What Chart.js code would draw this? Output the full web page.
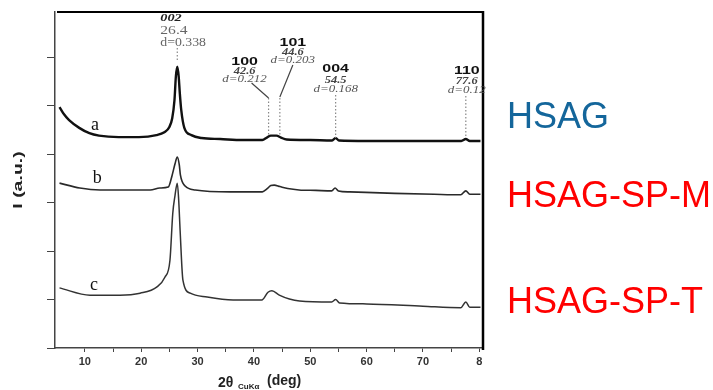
<!DOCTYPE html>
<html>
<head>
<meta charset="utf-8">
<script src="https://cdn.jsdelivr.net/npm/chart.js@4.4.1/dist/chart.umd.min.js"></script>
<style>
  html, body { margin: 0; padding: 0; background: #fff; }
  #xrd { display: block; }
</style>
</head>
<body>
<canvas id="xrd" width="713" height="390"></canvas>
<script>
// XRD patterns, intensity in arbitrary units (curves already offset)
var thetaA = [5.5, 6.3, 7.2, 9.0, 10.8, 12.5, 16.0, 19.6, 22.7, 24.1, 25.0, 25.5, 25.9, 26.15, 26.4, 26.65, 26.85, 27.1, 27.65, 28.9, 30.7, 34, 38, 41.5, 42.3, 43.0, 44.0, 44.8, 45.8, 50, 53.8, 54.5, 55.1, 60, 70, 76.8, 77.6, 78.3, 80.2];
var intA   = [4.97, 4.82, 4.70, 4.54, 4.43, 4.38, 4.35, 4.35, 4.39, 4.45, 4.56, 4.74, 5.11, 5.60, 5.80, 5.60, 5.25, 4.91, 4.54, 4.39, 4.33, 4.31, 4.29, 4.29, 4.34, 4.38, 4.38, 4.34, 4.30, 4.29, 4.28, 4.33, 4.28, 4.27, 4.27, 4.27, 4.31, 4.27, 4.27];

var thetaB = [5.5, 9.1, 12.7, 21.6, 23.3, 24.8, 25.5, 26.0, 26.4, 26.75, 26.95, 27.8, 29.6, 35.8, 41.5, 42.3, 43.0, 43.6, 44.6, 46.0, 48.0, 51.0, 53.8, 54.4, 55.0, 57.0, 65.0, 72.0, 76.7, 77.6, 78.3, 80.2];
var intB   = [3.40, 3.30, 3.26, 3.26, 3.30, 3.32, 3.57, 3.80, 3.94, 3.78, 3.57, 3.34, 3.26, 3.22, 3.22, 3.28, 3.35, 3.36, 3.33, 3.29, 3.26, 3.25, 3.24, 3.30, 3.24, 3.22, 3.19, 3.17, 3.16, 3.24, 3.17, 3.17];

var thetaC = [5.5, 10.9, 16.2, 19.8, 22.8, 24.2, 25.1, 25.6, 26.0, 26.4, 26.65, 26.9, 27.4, 28.7, 31.7, 36.3, 41.4, 42.5, 43.2, 44.5, 46.3, 48.1, 53.8, 54.5, 55.2, 60, 70, 76.7, 77.6, 78.3, 80.2];
var intC   = [1.24, 1.09, 1.09, 1.13, 1.26, 1.46, 1.81, 2.78, 3.15, 3.40, 3.05, 2.43, 1.40, 1.13, 1.05, 0.99, 0.99, 1.15, 1.18, 1.09, 1.01, 0.97, 0.95, 1.00, 0.93, 0.91, 0.86, 0.83, 0.95, 0.84, 0.84];

// indexed reflections of graphite
var peakTheta = [26.4, 42.6, 44.6, 54.5, 77.6];
var peakHkl   = ['002', '100', '101', '004', '110'];
var peakD     = ['0.338', '0.212', '0.203', '0.168', '0.12'];

var xMajor       = [10, 20, 30, 40, 50, 60, 70, 80];
var xMajorLabels = ['10', '20', '30', '40', '50', '60', '70', '8'];
var yTicks       = [0, 1, 2, 3, 4, 5, 6];

var curveLetters = ['a', 'b', 'c'];
var sampleNames  = ['HSAG', 'HSAG-SP-M', 'HSAG-SP-T'];

function pts(xs, ys) {
  return xs.map(function (x, i) { return { x: x, y: ys[i] }; });
}

// wide, squat lettering used in the peak annotations
function wideText(ctx, text, x, y, sx) {
  ctx.save();
  ctx.translate(x, y);
  ctx.scale(sx, 1);
  ctx.fillText(text, 0, 0);
  ctx.restore();
}

var overlay = {
  id: 'overlay',
  afterDraw: function (chart) {
    var ctx = chart.ctx;
    var xs = chart.scales.x, ys = chart.scales.y;
    var area = chart.chartArea;
    ctx.save();

    // heavy frame on top and right
    ctx.strokeStyle = '#000';
    ctx.lineWidth = 2;
    ctx.beginPath();
    ctx.moveTo(area.left + 2, area.top);
    ctx.lineTo(area.right, area.top);
    ctx.stroke();
    ctx.lineWidth = 2.5;
    ctx.beginPath();
    ctx.moveTo(area.right, area.top - 1);
    ctx.lineTo(area.right, area.bottom + 2);
    ctx.stroke();

    // dotted markers at the reflections
    var px = peakTheta.map(function (t) { return xs.getPixelForValue(t); });
    ctx.strokeStyle = '#888';
    ctx.lineWidth = 1.2;
    ctx.setLineDash([1.5, 2]);
    var spans = [[48, 62], [98, 135], [98, 135], [95, 138], [96, 138]];
    spans.forEach(function (s, i) {
      ctx.beginPath();
      ctx.moveTo(px[i], s[0]);
      ctx.lineTo(px[i], s[1]);
      ctx.stroke();
    });
    ctx.setLineDash([]);
    ctx.strokeStyle = '#444';
    ctx.lineWidth = 1.2;
    ctx.beginPath();
    ctx.moveTo(px[1] - 17, 83); ctx.lineTo(px[1], 98);
    ctx.moveTo(px[2] + 13, 65); ctx.lineTo(px[2], 97);
    ctx.stroke();

    // 002 label block (left aligned)
    ctx.textBaseline = 'middle';
    ctx.textAlign = 'left';
    ctx.fillStyle = '#222';
    ctx.font = 'bold italic 11px "Liberation Serif", serif';
    wideText(ctx, peakHkl[0], px[0] - 17, 18, 1.3);
    ctx.fillStyle = '#666';
    ctx.font = '12px "Liberation Serif", serif';
    wideText(ctx, peakTheta[0].toFixed(1), px[0] - 17, 31, 1.3);
    wideText(ctx, 'd=' + peakD[0], px[0] - 17, 43, 1.15);

    // remaining reflections, centred blocks
    var cx = [px[1] - 24, px[2] + 13, px[3], px[4] + 1];
    var rows = [[62, 71, 79], [43, 52, 60], [69, 80, 89], [71, 81, 90]];
    ctx.textAlign = 'center';
    for (var i = 1; i < peakTheta.length; i++) {
      var r = rows[i - 1];
      ctx.fillStyle = '#111';
      ctx.font = 'bold 11px "Liberation Sans", Arial, sans-serif';
      wideText(ctx, peakHkl[i], cx[i - 1], r[0], 1.45);
      ctx.fillStyle = '#444';
      ctx.font = 'bold italic 10px "Liberation Serif", serif';
      wideText(ctx, peakTheta[i].toFixed(1), cx[i - 1], r[1], 1.25);
      ctx.fillStyle = '#555';
      ctx.font = 'italic 10px "Liberation Serif", serif';
      wideText(ctx, 'd=' + peakD[i], cx[i - 1], r[2], 1.3);
    }

    // curve letters
    var letterAt = [[11.8, 4.60], [12.2, 3.51], [11.6, 1.30]];
    ctx.fillStyle = '#111';
    ctx.font = '18px "Liberation Serif", serif';
    curveLetters.forEach(function (l, i) {
      ctx.fillText(l, xs.getPixelForValue(letterAt[i][0]), ys.getPixelForValue(letterAt[i][1]));
    });

    // axis titles
    ctx.fillStyle = '#222';
    ctx.textAlign = 'left';
    ctx.textBaseline = 'alphabetic';
    ctx.font = 'bold 14px "Liberation Sans", Arial, sans-serif';
    ctx.fillText('2θ', 218, 387);
    ctx.font = 'bold 8px "Liberation Sans", Arial, sans-serif';
    ctx.fillText('CuKα', 238, 389);
    ctx.font = 'bold 14px "Liberation Sans", Arial, sans-serif';
    ctx.fillText('(deg)', 267, 385);

    ctx.save();
    ctx.translate(18, 180);
    ctx.rotate(-Math.PI / 2);
    ctx.scale(1.5, 1);
    ctx.textAlign = 'center';
    ctx.textBaseline = 'middle';
    ctx.font = 'bold 13px "Liberation Sans", Arial, sans-serif';
    ctx.fillText('I (a.u.)', 0, 0);
    ctx.restore();

    // sample names
    var nameColor = ['#14669b', '#ff0000', '#ff0000'];
    var nameBase = [128, 207, 313];
    ctx.textAlign = 'left';
    ctx.textBaseline = 'alphabetic';
    ctx.font = '36px "Liberation Sans", Arial, sans-serif';
    sampleNames.forEach(function (n, i) {
      ctx.fillStyle = nameColor[i];
      ctx.fillText(n, 507, nameBase[i]);
    });

    ctx.restore();
  }
};

new Chart(document.getElementById('xrd'), {
  type: 'line',
  data: {
    datasets: [
      { label: 'a', data: pts(thetaA, intA), borderColor: '#111', borderWidth: 2.4 },
      { label: 'b', data: pts(thetaB, intB), borderColor: '#2a2a2a', borderWidth: 1.6 },
      { label: 'c', data: pts(thetaC, intC), borderColor: '#333', borderWidth: 1.5 }
    ]
  },
  options: {
    responsive: false,
    devicePixelRatio: 1,
    animation: false,
    elements: { point: { radius: 0 }, line: { cubicInterpolationMode: 'monotone' } },
    layout: { padding: { top: 12, right: 230, left: 0, bottom: 0 } },
    plugins: { legend: { display: false }, tooltip: { enabled: false } },
    scales: {
      x: {
        type: 'linear',
        min: 4.7,
        max: 80.65,
        afterFit: function (s) { s.height = 42; },
        afterBuildTicks: function (s) {
          var t = [];
          for (var v = 10; v <= 80; v += 5) t.push({ value: v });
          s.ticks = t;
        },
        ticks: {
          autoSkip: false,
          maxRotation: 0,
          padding: 3,
          color: '#333',
          font: { family: '"Liberation Sans", Arial, sans-serif', size: 11, weight: 'bold' },
          callback: function (v) {
            var k = xMajor.indexOf(v);
            return k >= 0 ? xMajorLabels[k] : '';
          }
        },
        grid: { drawOnChartArea: false, drawTicks: true, tickLength: 4, color: '#444' },
        border: { display: true, color: '#444', width: 1.5 }
      },
      y: {
        min: 0,
        max: 6.93,
        afterFit: function (s) { s.width = 55; },
        afterBuildTicks: function (s) {
          s.ticks = yTicks.map(function (v) { return { value: v }; });
        },
        ticks: { callback: function () { return ''; } },
        grid: { drawOnChartArea: false, drawTicks: true, tickLength: 8, color: '#444' },
        border: { display: true, color: '#444', width: 1.5 }
      }
    }
  },
  plugins: [overlay]
});
</script>
</body>
</html>
